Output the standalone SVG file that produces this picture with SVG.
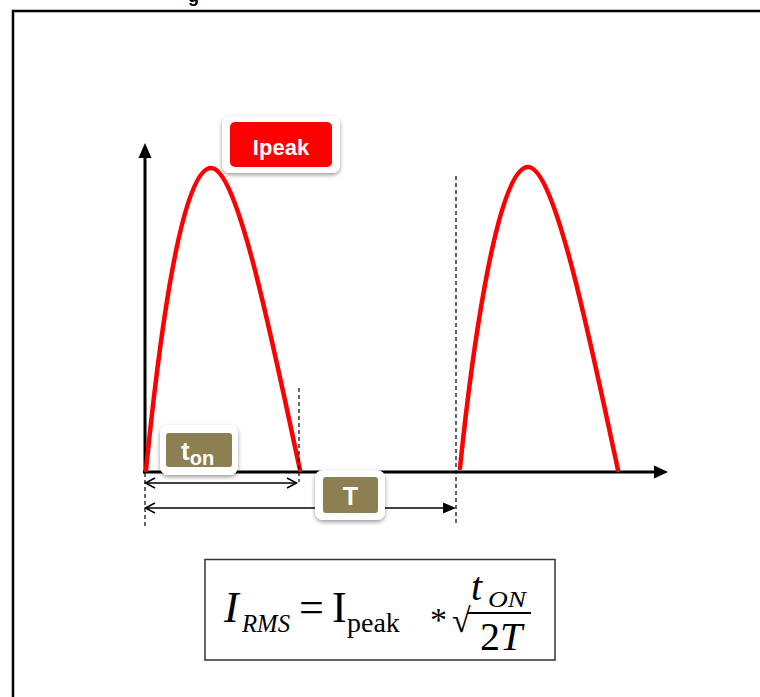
<svg xmlns="http://www.w3.org/2000/svg" width="760" height="697" viewBox="0 0 760 697">
<defs>
<filter id="sh" x="-20%" y="-20%" width="140%" height="150%">
<feDropShadow dx="0" dy="2" stdDeviation="2.2" flood-color="#000" flood-opacity="0.4"/>
</filter>
</defs>
<style>
.ax{stroke:#000;stroke-width:3;fill:none}
.wave{stroke:#ff0000;stroke-width:4.5;fill:none;stroke-linecap:round}
.dash{stroke:#000;stroke-width:1.2;stroke-dasharray:4 3;fill:none}
.dim{stroke:#000;stroke-width:1.5;fill:none}
.lbl{font-family:"Liberation Sans",Arial,sans-serif;font-weight:bold;fill:#fff}
.m{font-family:"Liberation Serif","Times New Roman",serif;fill:#000}
.it{font-style:italic}
</style>
<rect width="760" height="697" fill="#fff"/>
<text x="188" y="2" font-family="Liberation Sans, Arial, sans-serif" font-weight="bold" font-size="18" fill="#000">g</text>
<path d="M13,697 V11 H760" fill="none" stroke="#000" stroke-width="2.5"/>

<g id="axes">
<line class="ax" x1="145" y1="472" x2="145" y2="156"/>
<polygon points="145,143 138.5,158 151.5,158" fill="#000"/>
<line class="ax" x1="143" y1="472" x2="656" y2="472"/>
<polygon points="668,472 654,465.5 654,478.5" fill="#000"/>
</g>

<g id="waves">
<path class="wave" d="M146,470 C155,381 178,168 211,168 C238,168 272,341 300,470"/>
<path class="wave" d="M460,468 C469,380 495,167 528,167 C555,167 590,340 618,470"/>
</g>

<g id="connectors">
<line class="dash" x1="299" y1="388" x2="299" y2="482"/>
<line class="dash" x1="456" y1="176" x2="456" y2="526"/>
<line class="dash" x1="145" y1="473" x2="145" y2="527"/>
<line class="dim" x1="145" y1="483" x2="296" y2="483"/>
<polyline class="dim" points="155,478 145.5,483 155,488"/>
<polyline class="dim" points="287,478 296.5,483 287,488"/>
<line class="dim" x1="145" y1="508" x2="446" y2="508"/>
<polyline class="dim" points="155,503 145.5,508 155,513"/>
<polygon points="456,508 443,502.5 443,513.5" fill="#000"/>
</g>

<g id="ipeak">
<rect x="222" y="116" width="118" height="57" rx="8" fill="#fff" filter="url(#sh)"/>
<rect x="230" y="122" width="102" height="45" rx="5" fill="#ff0000"/>
<text class="lbl" x="281" y="155" font-size="22" text-anchor="middle">Ipeak</text>
</g>

<g id="ton">
<rect x="160" y="425" width="78" height="50" rx="8" fill="#fff" filter="url(#sh)"/>
<rect x="166" y="433" width="66" height="34" rx="3" fill="#8c7f52"/>
<text class="lbl" x="181" y="460" font-size="26">t<tspan font-size="20" dy="5">on</tspan></text>
</g>

<g id="T">
<rect x="315" y="470" width="70" height="50" rx="8" fill="#fff" filter="url(#sh)"/>
<rect x="323" y="477" width="55" height="36" rx="3" fill="#8c7f52"/>
<text class="lbl" x="350.5" y="505" font-size="25" text-anchor="middle">T</text>
</g>

<g id="formula">
<rect x="205" y="559.5" width="350" height="100.5" fill="#fff" stroke="#333" stroke-width="1.5"/>
<text class="m it" x="224" y="622" font-size="44">I</text>
<text class="m it" x="242" y="632" font-size="25" textLength="48" lengthAdjust="spacingAndGlyphs">RMS</text>
<text class="m" x="299" y="622" font-size="44">=</text>
<text class="m" x="332" y="622" font-size="44">I</text>
<text class="m" x="347" y="632" font-size="28">peak</text>
<text class="m" x="430" y="631" font-size="34">*</text>
<text class="m" x="452" y="632" font-size="34">√</text>
<text class="m it" x="471" y="600" font-size="40">t</text>
<text class="m it" x="488" y="607" font-size="24" textLength="38" lengthAdjust="spacingAndGlyphs">ON</text>
<line x1="467" y1="613" x2="531" y2="613" stroke="#000" stroke-width="2"/>
<text class="m" x="480" y="650" font-size="40">2<tspan class="it">T</tspan></text>
</g>
</svg>
